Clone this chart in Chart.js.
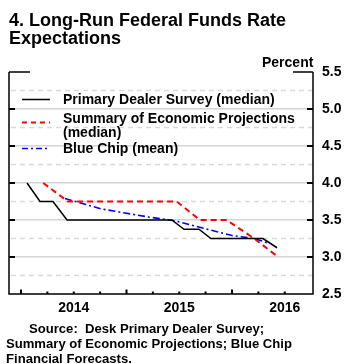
<!DOCTYPE html>
<html><head><meta charset="utf-8">
<script src="https://cdn.jsdelivr.net/npm/chart.js@4/dist/chart.umd.min.js"></script>
<style>
html,body{margin:0;padding:0;background:#fff;}
body{width:351px;height:364px;position:relative;overflow:hidden;font-family:"Liberation Sans",Arial,Helvetica,sans-serif;font-weight:bold;color:#000;}
#c{position:absolute;left:0;top:0;}
.t{position:absolute;white-space:nowrap;}
svg{position:absolute;left:0;top:0;}
</style></head><body>
<canvas id="c" width="351" height="364"></canvas>
<div class="t" style="left:9px;top:11px;font-size:18px;line-height:18px;">4. Long-Run Federal Funds Rate<br>Expectations</div>
<div class="t" style="left:262px;top:55px;font-size:14px;line-height:14px;">Percent</div>
<svg width="351" height="364">
  <line x1="22" y1="99.5" x2="50" y2="99.5" stroke="#000" stroke-width="1.5"/>
  <line x1="22" y1="122.5" x2="50" y2="122.5" stroke="#ff0000" stroke-width="1.8" stroke-dasharray="5,4"/>
  <line x1="22" y1="148.5" x2="50" y2="148.5" stroke="#0000ff" stroke-width="1.5" stroke-dasharray="6,3,2,3"/>
</svg>
<div class="t" style="left:63px;top:92.4px;font-size:14px;line-height:14px;">Primary Dealer Survey (median)</div>
<div class="t" style="left:63px;top:111.4px;font-size:14px;line-height:14px;">Summary of Economic Projections</div>
<div class="t" style="left:63px;top:124.6px;font-size:14px;line-height:14px;">(median)</div>
<div class="t" style="left:63px;top:141.1px;font-size:14px;line-height:14px;">Blue Chip (mean)</div>
<div class="t" style="left:6px;top:320.8px;font-size:13.1px;line-height:15.3px;"><span style="padding-left:23px">Source:&nbsp; Desk Primary Dealer Survey;</span><br>Summary of Economic Projections; Blue Chip<br>Financial Forecasts.</div>
<script>
// ---- data ----
const pdsDates = [2014.057, 2014.180, 2014.303, 2014.436, 2014.56, 2014.71, 2014.82, 2014.96, 2015.08, 2015.21, 2015.33, 2015.430, 2015.545, 2015.687, 2015.800, 2015.96, 2016.08, 2016.21, 2016.294, 2016.427];
const pdsValues = [4.0, 3.75, 3.75, 3.5, 3.5, 3.5, 3.5, 3.5, 3.5, 3.5, 3.5, 3.5, 3.375, 3.375, 3.25, 3.25, 3.25, 3.25, 3.25, 3.125];
const sepDates = [2014.211, 2014.445, 2014.71, 2014.96, 2015.21, 2015.476, 2015.697, 2015.95, 2016.21, 2016.439];
const sepValues = [4.0, 3.75, 3.75, 3.75, 3.75, 3.75, 3.5, 3.5, 3.25, 3.0];
const bcDates = [2014.417, 2014.76, 2015.21, 2015.46, 2015.75, 2016.0, 2016.21, 2016.36];
const bcValues = [3.79, 3.65, 3.54, 3.49, 3.38, 3.29, 3.25, 3.18];
const xLabelPos = [2014.5, 2015.5, 2016.5];
const xLabels = ['2014', '2015', '2016'];
const xMajorTicks = [2014, 2015, 2016];
const xMinorTicks = [2014.25, 2014.5, 2014.75, 2015.25, 2015.5, 2015.75, 2016.25, 2016.5];
const yTickMarks = [3.0, 3.5, 4.0, 4.5, 5.0];
const yDashedLevels = [2.75, 3.25, 3.75, 4.25, 4.75, 5.25];
const xMin = 2013.886, xMax = 2016.768, yMin = 2.5, yMax = 5.5;

const FONT = '"Liberation Sans", Arial, Helvetica, sans-serif';
const pts = (xs, ys) => xs.map((x, i) => ({x: x, y: ys[i]}));

const framePlugin = {
  id: 'frame',
  beforeDatasetsDraw(chart) {
    const {ctx, chartArea: a, scales: {y}} = chart;
    ctx.save();
    ctx.strokeStyle = '#d9d9d9';
    ctx.lineWidth = 1.5;
    ctx.setLineDash([5, 4]);
    yDashedLevels.forEach(v => {
      const py = y.getPixelForValue(v);
      ctx.beginPath(); ctx.moveTo(a.left + 2, py); ctx.lineTo(a.right, py); ctx.stroke();
    });
    ctx.restore();
  },
  afterDraw(chart) {
    const {ctx, chartArea: a, scales: {x, y}} = chart;
    ctx.save();
    ctx.strokeStyle = '#000';
    ctx.lineWidth = 1.5;
    ctx.beginPath();
    ctx.moveTo(a.left, a.top); ctx.lineTo(a.left, a.bottom); ctx.lineTo(a.right, a.bottom); ctx.lineTo(a.right, a.top);
    ctx.stroke();
    ctx.beginPath(); ctx.moveTo(a.left, a.top); ctx.lineTo(a.left + 21, a.top); ctx.stroke();
    ctx.beginPath(); ctx.moveTo(a.right - 20, a.top); ctx.lineTo(a.right, a.top); ctx.stroke();
    ctx.lineWidth = 2;
    yTickMarks.forEach(v => {
      const py = y.getPixelForValue(v);
      ctx.beginPath(); ctx.moveTo(a.left, py); ctx.lineTo(a.left + 6, py); ctx.stroke();
      ctx.beginPath(); ctx.moveTo(a.right - 6, py); ctx.lineTo(a.right, py); ctx.stroke();
    });
    xMajorTicks.forEach(v => {
      const px = x.getPixelForValue(v);
      ctx.beginPath(); ctx.moveTo(px, a.bottom); ctx.lineTo(px, a.bottom - 4.5); ctx.stroke();
    });
    xMinorTicks.forEach(v => {
      const px = x.getPixelForValue(v);
      ctx.beginPath(); ctx.moveTo(px, a.bottom); ctx.lineTo(px, a.bottom - 2.5); ctx.stroke();
    });
    ctx.restore();
  }
};

new Chart(document.getElementById('c'), {
  type: 'line',
  data: {
    datasets: [
      {data: pts(pdsDates, pdsValues), borderColor: '#000', borderWidth: 1.5},
      {data: pts(sepDates, sepValues), borderColor: '#ff0000', borderWidth: 2, borderDash: [6, 4]},
      {data: pts(bcDates, bcValues), borderColor: '#0000ff', borderWidth: 1.6, borderDash: [7, 3, 2, 3]}
    ]
  },
  options: {
    responsive: false, animation: false, devicePixelRatio: 1,
    layout: {padding: {left: 9, top: 72, right: 0, bottom: 0}},
    plugins: {legend: {display: false}, tooltip: {enabled: false}},
    elements: {point: {radius: 0}, line: {tension: 0, fill: false}},
    scales: {
      x: {
        type: 'linear', min: xMin, max: xMax,
        afterBuildTicks: s => { s.ticks = xLabelPos.map(v => ({value: v})); },
        afterFit: s => { s.height = 70; },
        ticks: {
          callback: v => { const i = xLabelPos.indexOf(v); return i >= 0 ? xLabels[i] : ''; },
          font: {family: FONT, size: 14, weight: 'bold'}, color: '#000', padding: 6, maxRotation: 0, autoSkip: false
        },
        grid: {display: false, drawTicks: false},
        border: {display: false}
      },
      y: {
        position: 'right', min: yMin, max: yMax,
        afterFit: s => { s.width = 38; },
        ticks: {stepSize: 0.5, callback: v => Number(v).toFixed(1), font: {family: FONT, size: 14, weight: 'bold'}, color: '#000', padding: 9},
        grid: {
          color: c => (c.tick && (c.tick.value === yMin || c.tick.value === yMax)) ? 'rgba(0,0,0,0)' : '#d4d4d4',
          lineWidth: 1.5, drawTicks: false
        },
        border: {display: false}
      }
    }
  },
  plugins: [framePlugin]
});
</script>
</body></html>
